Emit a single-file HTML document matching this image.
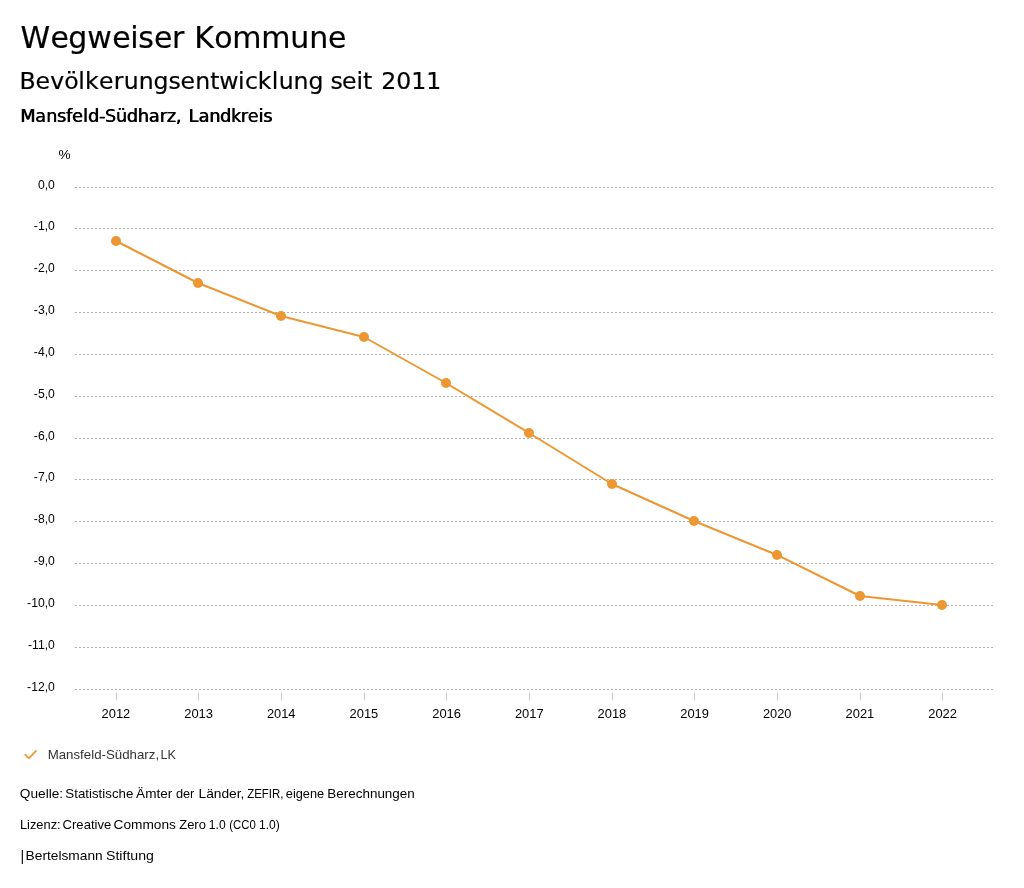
<!DOCTYPE html>
<html lang="de"><head><meta charset="utf-8"><title>Wegweiser Kommune</title>
<style>
html,body{margin:0;padding:0;background:#fff;}
svg{display:block}
.h{font-family:"DejaVu Sans","Liberation Sans",sans-serif;fill:#000;font-kerning:none}

.lg{fill:#333 !important}
.t{font-family:"Liberation Sans","DejaVu Sans",sans-serif;fill:#000;font-size:12.9px}
</style></head><body>
<svg width="1024" height="888" viewBox="0 0 1024 888">
<rect width="1024" height="888" fill="#fff"/>
<g style="will-change:transform">
<text class="h" y="47.7" font-size="30" stroke="#000" stroke-width="0.2"><tspan x="20.46 50.41 68.36 87.31 112.25 130.20 138.15 154.10 172.04">Wegweiser</tspan> <tspan x="194.19 214.18 232.17 261.16 290.15 309.14 328.12">Kommune</tspan></text>
<text class="h" y="88.6" font-size="23.58" stroke="#000" stroke-width="0.2"><tspan x="19.49 35.40 50.31 64.22 78.13 85.04 98.95 113.86 123.77 138.68 153.59 168.50 180.41 195.32 210.23 219.14 238.05 244.96 257.87 271.78 278.69 293.59 308.50">Bevölkerungsentwicklung</tspan> <tspan x="330.49 342.02 356.54 363.06">seit</tspan> <tspan x="381.33 396.32 411.31 426.30">2011</tspan></text>
<text id="hb2" class="h" y="121.7" font-size="17.6"><tspan x="19.95 34.92 45.89 56.86 65.83 71.80 82.77 87.74 98.71 104.68 115.65 126.62 137.59 148.56 159.53 166.50 175.48">Mansfeld-Südharz,</tspan> <tspan x="188.35 198.19 209.03 219.87 230.71 240.55 247.39 258.23 263.08">Landkreis</tspan></text><use href="#hb2" x="0.7"/>
<line x1="75" x2="993" y1="187.5" y2="187.5" stroke="#b0b0b0" stroke-width="1" stroke-dasharray="2,2" shape-rendering="crispEdges"/>
<text class="t" x="37.92" y="189.0" textLength="16.95" lengthAdjust="spacingAndGlyphs">0,0</text>
<line x1="75" x2="993" y1="228.5" y2="228.5" stroke="#b0b0b0" stroke-width="1" stroke-dasharray="2,2" shape-rendering="crispEdges"/>
<text class="t" x="33.86" y="230.0" textLength="21.01" lengthAdjust="spacingAndGlyphs">-1,0</text>
<line x1="75" x2="993" y1="270.5" y2="270.5" stroke="#b0b0b0" stroke-width="1" stroke-dasharray="2,2" shape-rendering="crispEdges"/>
<text class="t" x="33.86" y="272.0" textLength="21.01" lengthAdjust="spacingAndGlyphs">-2,0</text>
<line x1="75" x2="993" y1="312.5" y2="312.5" stroke="#b0b0b0" stroke-width="1" stroke-dasharray="2,2" shape-rendering="crispEdges"/>
<text class="t" x="33.86" y="314.0" textLength="21.01" lengthAdjust="spacingAndGlyphs">-3,0</text>
<line x1="75" x2="993" y1="354.5" y2="354.5" stroke="#b0b0b0" stroke-width="1" stroke-dasharray="2,2" shape-rendering="crispEdges"/>
<text class="t" x="33.86" y="356.0" textLength="21.01" lengthAdjust="spacingAndGlyphs">-4,0</text>
<line x1="75" x2="993" y1="396.5" y2="396.5" stroke="#b0b0b0" stroke-width="1" stroke-dasharray="2,2" shape-rendering="crispEdges"/>
<text class="t" x="33.86" y="398.0" textLength="21.01" lengthAdjust="spacingAndGlyphs">-5,0</text>
<line x1="75" x2="993" y1="438.5" y2="438.5" stroke="#b0b0b0" stroke-width="1" stroke-dasharray="2,2" shape-rendering="crispEdges"/>
<text class="t" x="33.86" y="440.0" textLength="21.01" lengthAdjust="spacingAndGlyphs">-6,0</text>
<line x1="75" x2="993" y1="479.5" y2="479.5" stroke="#b0b0b0" stroke-width="1" stroke-dasharray="2,2" shape-rendering="crispEdges"/>
<text class="t" x="33.86" y="481.0" textLength="21.01" lengthAdjust="spacingAndGlyphs">-7,0</text>
<line x1="75" x2="993" y1="521.5" y2="521.5" stroke="#b0b0b0" stroke-width="1" stroke-dasharray="2,2" shape-rendering="crispEdges"/>
<text class="t" x="33.86" y="523.0" textLength="21.01" lengthAdjust="spacingAndGlyphs">-8,0</text>
<line x1="75" x2="993" y1="563.5" y2="563.5" stroke="#b0b0b0" stroke-width="1" stroke-dasharray="2,2" shape-rendering="crispEdges"/>
<text class="t" x="33.86" y="565.0" textLength="21.01" lengthAdjust="spacingAndGlyphs">-9,0</text>
<line x1="75" x2="993" y1="605.5" y2="605.5" stroke="#b0b0b0" stroke-width="1" stroke-dasharray="2,2" shape-rendering="crispEdges"/>
<text class="t" x="27.08" y="607.0" textLength="27.79" lengthAdjust="spacingAndGlyphs">-10,0</text>
<line x1="75" x2="993" y1="647.5" y2="647.5" stroke="#b0b0b0" stroke-width="1" stroke-dasharray="2,2" shape-rendering="crispEdges"/>
<text class="t" x="27.98" y="649.0" textLength="26.88" lengthAdjust="spacingAndGlyphs">-11,0</text>
<line x1="75" x2="993" y1="689.5" y2="689.5" stroke="#b0b0b0" stroke-width="1" stroke-dasharray="2,2" shape-rendering="crispEdges"/>
<text class="t" x="27.08" y="691.0" textLength="27.79" lengthAdjust="spacingAndGlyphs">-12,0</text>
<polyline points="116.0,241.0 198.0,283.0 281.0,316.0 364.0,337.0 446.0,383.0 529.0,433.0 612.0,484.0 694.0,521.0 777.0,555.0 860.0,596.0 942.0,605.0" fill="none" stroke="#ec9732" stroke-width="2" stroke-linejoin="round"/>
<circle cx="116.0" cy="241.0" r="5" fill="#ec9732"/>
<circle cx="198.0" cy="283.0" r="5" fill="#ec9732"/>
<circle cx="281.0" cy="316.0" r="5" fill="#ec9732"/>
<circle cx="364.0" cy="337.0" r="5" fill="#ec9732"/>
<circle cx="446.0" cy="383.0" r="5" fill="#ec9732"/>
<circle cx="529.0" cy="433.0" r="5" fill="#ec9732"/>
<circle cx="612.0" cy="484.0" r="5" fill="#ec9732"/>
<circle cx="694.0" cy="521.0" r="5" fill="#ec9732"/>
<circle cx="777.0" cy="555.0" r="5" fill="#ec9732"/>
<circle cx="860.0" cy="596.0" r="5" fill="#ec9732"/>
<circle cx="942.0" cy="605.0" r="5" fill="#ec9732"/>
<rect x="116" y="692.4" width="1" height="8.1" fill="#ccc"/>
<text class="t" x="101.59" y="718.0" textLength="28.73" lengthAdjust="spacingAndGlyphs">2012</text>
<rect x="198" y="692.4" width="1" height="8.1" fill="#ccc"/>
<text class="t" x="184.26" y="718.0" textLength="28.73" lengthAdjust="spacingAndGlyphs">2013</text>
<rect x="281" y="692.4" width="1" height="8.1" fill="#ccc"/>
<text class="t" x="266.93" y="718.0" textLength="28.52" lengthAdjust="spacingAndGlyphs">2014</text>
<rect x="364" y="692.4" width="1" height="8.1" fill="#ccc"/>
<text class="t" x="349.59" y="718.0" textLength="28.73" lengthAdjust="spacingAndGlyphs">2015</text>
<rect x="446" y="692.4" width="1" height="8.1" fill="#ccc"/>
<text class="t" x="432.26" y="718.0" textLength="28.73" lengthAdjust="spacingAndGlyphs">2016</text>
<rect x="529" y="692.4" width="1" height="8.1" fill="#ccc"/>
<text class="t" x="514.93" y="718.0" textLength="28.73" lengthAdjust="spacingAndGlyphs">2017</text>
<rect x="612" y="692.4" width="1" height="8.1" fill="#ccc"/>
<text class="t" x="597.59" y="718.0" textLength="28.73" lengthAdjust="spacingAndGlyphs">2018</text>
<rect x="694" y="692.4" width="1" height="8.1" fill="#ccc"/>
<text class="t" x="680.26" y="718.0" textLength="28.73" lengthAdjust="spacingAndGlyphs">2019</text>
<rect x="777" y="692.4" width="1" height="8.1" fill="#ccc"/>
<text class="t" x="762.93" y="718.0" textLength="28.52" lengthAdjust="spacingAndGlyphs">2020</text>
<rect x="860" y="692.4" width="1" height="8.1" fill="#ccc"/>
<text class="t" x="845.59" y="718.0" textLength="28.73" lengthAdjust="spacingAndGlyphs">2021</text>
<rect x="942" y="692.4" width="1" height="8.1" fill="#ccc"/>
<text class="t" x="928.26" y="718.0" textLength="28.73" lengthAdjust="spacingAndGlyphs">2022</text>
<polyline points="24.7,754.1 29.0,758.35 36.5,750.4" fill="none" stroke="#ec9732" stroke-width="1.7"/>
<text class="t lg"><tspan x="47.66" y="759.1" textLength="111.43" lengthAdjust="spacingAndGlyphs">Mansfeld-Südharz,</tspan> <tspan x="160.42" y="759.1" textLength="15.42" lengthAdjust="spacingAndGlyphs">LK</tspan></text>
<text class="t"><tspan x="19.86" y="798.2" textLength="43.27" lengthAdjust="spacingAndGlyphs">Quelle:</tspan> <tspan x="65.38" y="798.2" textLength="67.95" lengthAdjust="spacingAndGlyphs">Statistische</tspan> <tspan x="136.10" y="798.2" textLength="36.17" lengthAdjust="spacingAndGlyphs">Ämter</tspan> <tspan x="175.90" y="798.2" textLength="18.46" lengthAdjust="spacingAndGlyphs">der</tspan> <tspan x="198.53" y="798.2" textLength="45.90" lengthAdjust="spacingAndGlyphs">Länder,</tspan> <tspan x="247.24" y="798.2" textLength="36.11" lengthAdjust="spacingAndGlyphs">ZEFIR,</tspan> <tspan x="285.80" y="798.2" textLength="38.42" lengthAdjust="spacingAndGlyphs">eigene</tspan> <tspan x="327.35" y="798.2" textLength="87.40" lengthAdjust="spacingAndGlyphs">Berechnungen</tspan></text>
<text class="t"><tspan x="19.89" y="829.0" textLength="40.77" lengthAdjust="spacingAndGlyphs">Lizenz:</tspan> <tspan x="62.59" y="829.0" textLength="48.64" lengthAdjust="spacingAndGlyphs">Creative</tspan> <tspan x="113.56" y="829.0" textLength="62.37" lengthAdjust="spacingAndGlyphs">Commons</tspan> <tspan x="179.19" y="829.0" textLength="26.73" lengthAdjust="spacingAndGlyphs">Zero</tspan> <tspan x="208.85" y="829.0" textLength="16.75" lengthAdjust="spacingAndGlyphs">1.0</tspan> <tspan x="229.27" y="829.0" textLength="26.52" lengthAdjust="spacingAndGlyphs">(CC0</tspan> <tspan x="259.05" y="829.0" textLength="20.78" lengthAdjust="spacingAndGlyphs">1.0)</tspan></text>
<text class="t"><tspan x="20.55" y="860.6" style="font-size:14.1px">|</tspan> <tspan x="25.63" y="859.9" textLength="77.04" lengthAdjust="spacingAndGlyphs">Bertelsmann</tspan> <tspan x="105.96" y="859.9" textLength="47.94" lengthAdjust="spacingAndGlyphs">Stiftung</tspan></text>
<text class="t"><tspan x="58.57" y="158.7" textLength="12.13" lengthAdjust="spacingAndGlyphs">%</tspan></text>
</g></svg></body></html>
